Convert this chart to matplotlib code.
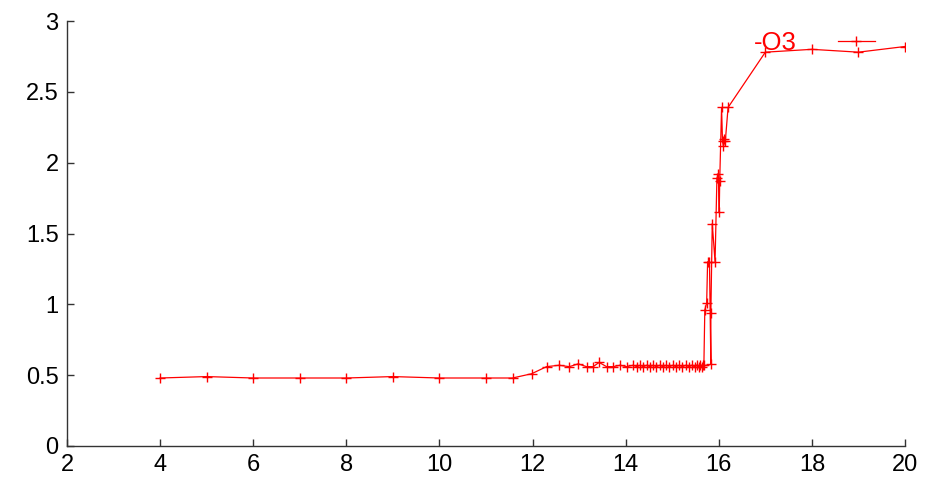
import matplotlib
matplotlib.use("Agg")
import matplotlib.pyplot as plt

plt.rcParams['font.family'] = ['Liberation Sans', 'DejaVu Sans']

series_label = "-O3"

x_vals = [4, 5, 6, 7, 8, 9, 10, 11, 11.57, 11.98, 12.30, 12.57, 12.79, 12.98,
          13.16, 13.30, 13.43, 13.59, 13.73, 13.88, 14.02, 14.16,
          14.24, 14.31, 14.38, 14.45, 14.52, 14.59, 14.66, 14.73, 14.80,
          14.87, 14.94, 15.01, 15.08, 15.15, 15.22, 15.29, 15.36, 15.42,
          15.48, 15.53, 15.57, 15.60, 15.63, 15.66, 15.68,
          15.70, 15.74, 15.76, 15.80, 15.83, 15.83, 15.86, 15.92, 15.96,
          15.99, 16.01, 16.02, 16.06, 16.08, 16.10, 16.12, 16.14, 16.20,
          17, 18, 19, 20]
y_vals = [0.48, 0.49, 0.48, 0.48, 0.48, 0.49, 0.48, 0.48, 0.48, 0.51, 0.56, 0.57,
          0.56, 0.58, 0.56, 0.56, 0.59, 0.56, 0.56, 0.57, 0.56, 0.57,
          0.56, 0.57, 0.56, 0.57, 0.56, 0.57, 0.56, 0.57, 0.56,
          0.57, 0.56, 0.57, 0.56, 0.57, 0.56, 0.57, 0.56, 0.57,
          0.56, 0.57, 0.56, 0.57, 0.56, 0.57, 0.57,
          0.96, 1.01, 1.30, 1.30, 0.58, 0.94, 1.57, 1.30, 1.89,
          1.92, 1.65, 1.87, 2.39, 2.15, 2.12, 2.17, 2.15, 2.39,
          2.78, 2.80, 2.78, 2.82]

x_ticks = [2, 4, 6, 8, 10, 12, 14, 16, 18, 20]
y_ticks = [0, 0.5, 1, 1.5, 2, 2.5, 3]
y_tick_labels = ["0", "0.5", "1", "1.5", "2", "2.5", "3"]

fig = plt.figure(figsize=(9.27, 4.80), dpi=100)
ax = fig.add_axes([67/927, 1-446/480, (905-67)/927, (446-21)/480])

ax.plot(x_vals, y_vals, color='#ff0000', lw=0.9, marker='+', markersize=7,
        markeredgewidth=1.0, label=series_label)

ax.set_xlim(2, 20)
ax.set_ylim(0, 3)
ax.set_xticks(x_ticks)
ax.set_xticklabels([str(t) for t in x_ticks])
ax.set_yticks(y_ticks)
ax.set_yticklabels(y_tick_labels)
for s in ['top', 'right']:
    ax.spines[s].set_visible(False)
for s in ['left', 'bottom']:
    ax.spines[s].set_color('#333333')
    ax.spines[s].set_linewidth(1.0)
ax.tick_params(direction='in', length=5, width=1, colors='#333333',
               labelcolor='black', labelsize=17, pad=6)

leg = ax.legend(loc='upper right', bbox_to_anchor=((875-67)/838, (446-31)/425),
                frameon=False, markerfirst=False, fontsize=18.5, labelcolor='red',
                handlelength=1.45, handletextpad=1.6, borderpad=0, borderaxespad=0)

fig.savefig("out.png", dpi=100)
